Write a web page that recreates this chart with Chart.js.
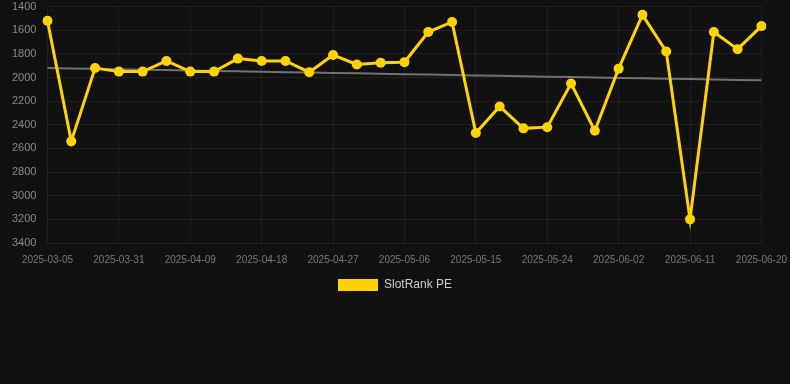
<!DOCTYPE html>
<html>
<head>
<meta charset="utf-8">
<script src="https://cdn.jsdelivr.net/npm/chart.js@4.4.1/dist/chart.umd.min.js"></script>
<style>
    html, body { margin: 0; padding: 0; background: #111111; overflow: hidden; }
    #wrap { width: 790px; height: 304px; margin-top: -3px; }
</style>
</head>
<body>
<div id="wrap"><canvas id="rankChart"></canvas></div>
<script>
// Dates for each point (every third label is shown on the axis)
const dates = [
    '2025-03-05', '2025-03-25', '2025-03-28', '2025-03-31', '2025-04-03', '2025-04-06',
    '2025-04-09', '2025-04-12', '2025-04-15', '2025-04-18', '2025-04-21', '2025-04-24',
    '2025-04-27', '2025-04-30', '2025-05-03', '2025-05-06', '2025-05-09', '2025-05-12',
    '2025-05-15', '2025-05-18', '2025-05-21', '2025-05-24', '2025-05-27', '2025-05-30',
    '2025-06-02', '2025-06-05', '2025-06-08', '2025-06-11', '2025-06-14', '2025-06-17',
    '2025-06-20'
];

// SlotRank PE values
const rankValues = [
    1520, 2540, 1920, 1950, 1950, 1860,
    1950, 1950, 1840, 1860, 1860, 1955,
    1810, 1890, 1875, 1870, 1615, 1530,
    2470, 2245, 2430, 2420, 2050, 2450,
    1925, 1470, 1780, 3200, 1615, 1760,
    1565
];

// Y axis range
const yMin = 1400;
const yMax = 3400;
const yStep = 200;

// Least squares trend of the rank series
function trendOf(values) {
    const n = values.length;
    let sx = 0, sy = 0, sxy = 0, sxx = 0;
    values.forEach((v, i) => { sx += i; sy += v; sxy += i * v; sxx += i * i; });
    const slope = (n * sxy - sx * sy) / (n * sxx - sx * sx);
    const icpt = (sy - slope * sx) / n;
    return values.map((v, i) => icpt + slope * i);
}
const trendValues = trendOf(rankValues);

const ctx = document.getElementById('rankChart').getContext('2d');
new Chart(ctx, {
    type: 'line',
    data: {
        labels: dates,
        datasets: [{
            label: 'SlotRank PE',
            data: rankValues,
            borderColor: '#FFD300',
            backgroundColor: '#FFD300',
            borderWidth: 3,
            pointRadius: 5,
            pointBackgroundColor: '#FFD300',
            pointBorderWidth: 0,
            tension: 0,
            order: 1
        }, {
            label: 'Trend',
            data: trendValues,
            borderColor: 'rgba(130, 130, 130, 0.85)',
            borderWidth: 2,
            pointRadius: 0,
            tension: 0,
            order: 2
        }]
    },
    options: {
        responsive: true,
        maintainAspectRatio: false,
        animation: false,
        scales: {
            x: {
                grid: {
                    color: (c) => (c.index % 3 === 0 ? 'rgba(255, 255, 255, 0.06)' : 'transparent'),
                    tickColor: 'transparent'
                },
                border: { display: false },
                ticks: {
                    autoSkip: false,
                    maxRotation: 0,
                    color: '#777',
                    font: { family: 'Liberation Sans', size: 10 },
                    callback: function (value, index) {
                        return index % 3 === 0 ? this.getLabelForValue(value) : '';
                    }
                }
            },
            y: {
                reverse: true,
                min: yMin,
                max: yMax,
                afterFit: (scale) => { scale.width += 9; },
                grid: { color: 'rgba(255, 255, 255, 0.06)', tickColor: 'transparent' },
                border: { display: false },
                ticks: {
                    stepSize: yStep,
                    color: '#888',
                    font: { family: 'Liberation Sans', size: 11 },
                    callback: (v) => String(v)
                }
            }
        },
        plugins: {
            legend: {
                position: 'bottom',
                labels: {
                    color: '#ccc',
                    boxWidth: 40,
                    boxHeight: 12,
                    font: { family: 'Liberation Sans', size: 12 },
                    generateLabels: function (chart) {
                        const items = Chart.defaults.plugins.legend.labels.generateLabels(chart);
                        return items.filter(it => it.datasetIndex === 0).map(it => {
                            it.lineWidth = 0;
                            it.strokeStyle = 'transparent';
                            return it;
                        });
                    }
                }
            },
            tooltip: { enabled: false }
        }
    }
});
</script>
</body>
</html>
